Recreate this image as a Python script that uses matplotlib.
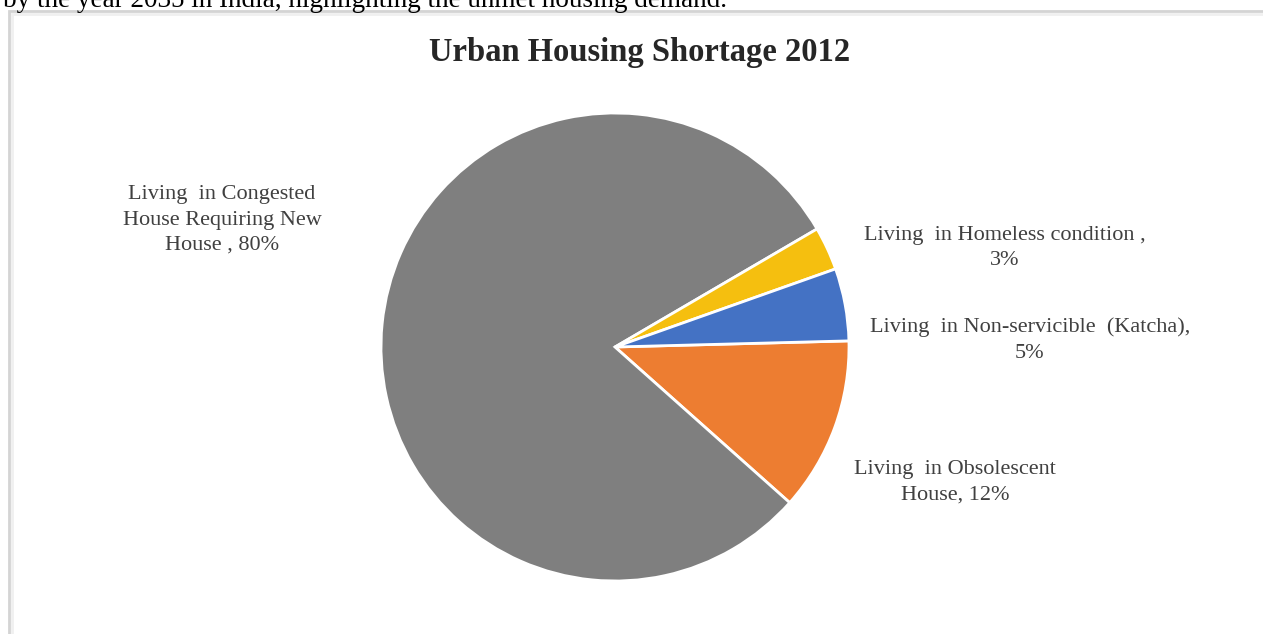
import matplotlib.pyplot as plt
from matplotlib.patches import Rectangle

plt.rcParams['font.family'] = ['Liberation Serif', 'DejaVu Serif']

# slice order follows the wedges clockwise from just above 3 o'clock
categories = ['Living  in Obsolescent\nHouse', 'Living  in Congested\nHouse Requiring New\nHouse',
              'Living  in Homeless condition', 'Living  in Non-servicible  (Katcha)']
separators = [', ', ' , ', ' ,\n', ',\n']
shares = [12, 80, 3, 5]
colors = ['#ed7d31', '#7f7f7f', '#f5bf0f', '#4472c4']

# label anchor points in pixels (x, y from top)
label_pos = [(955, 482), (222, 220), (1005, 248), (1030, 340)]

W, H = 1263, 634
fig = plt.figure(figsize=(W / 100, H / 100), dpi=100)

# chart frame, running off the right and bottom edges
fig.patches.append(Rectangle((9 / W, -0.1), 1.2, 1 - 11 / H + 0.1, transform=fig.transFigure,
                             facecolor='none', edgecolor='#d4d4d4', linewidth=2, zorder=-1))
fig.patches.append(Rectangle((12 / W, -0.1), 1.2, 1 - 14 / H + 0.1, transform=fig.transFigure,
                             facecolor='none', edgecolor='#f0f0f0', linewidth=2, zorder=-1))

fig.text(3 / W, 1 - 7 / H, 'by the year 2035 in India, highlighting the unmet housing demand.',
         fontsize=19.5, color='black', va='baseline', ha='left')

fig.text(640 / W, 1 - 52 / H, 'Urban Housing Shortage 2012', fontsize=23.5, fontweight='bold',
         color='#262626', ha='center', va='center')

cx, cy, r, half = 615, 347, 234, 240
ax = fig.add_axes([(cx - half) / W, (H - cy - half) / H, 2 * half / W, 2 * half / H])
ax.pie(shares, colors=colors, startangle=1.5, counterclock=False,
       wedgeprops=dict(edgecolor='white', linewidth=2))
ax.set_xlim(-half / r, half / r)
ax.set_ylim(-half / r, half / r)
ax.axis('off')

for cat, sep, v, (px, py) in zip(categories, separators, shares, label_pos):
    fig.text(px / W, 1 - py / H, cat + sep + f'{v}%', fontsize=16, color='#404040',
             ha='center', va='center', linespacing=1.45)

plt.savefig('out.png', dpi=100)
